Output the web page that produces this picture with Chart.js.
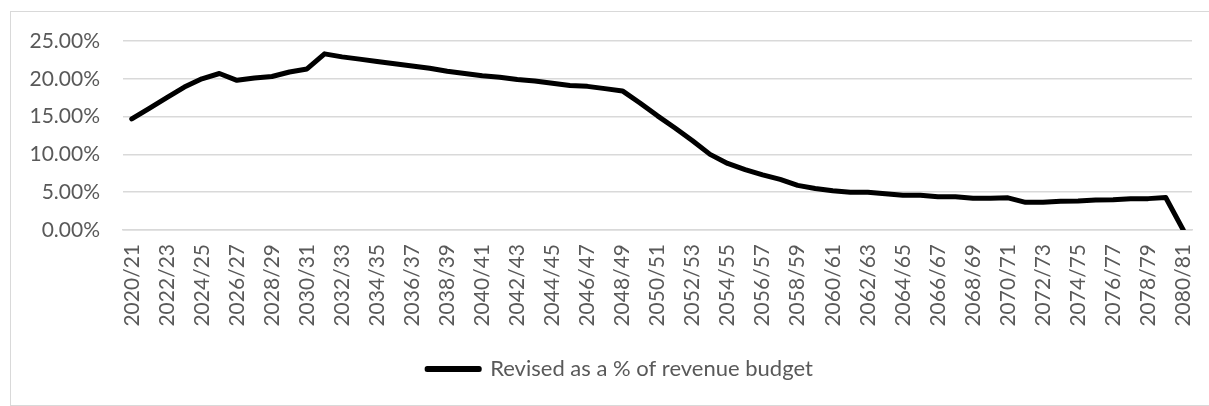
<!DOCTYPE html>
<html>
<head>
<meta charset="utf-8">
<script src="https://cdn.jsdelivr.net/npm/chart.js@4/dist/chart.umd.min.js"></script>
<style>
  html, body { margin: 0; padding: 0; background: #fff; overflow: hidden; }
  #wrap { position: relative; width: 1209px; height: 406px; }
  #frame {
    position: absolute; left: 10px; top: 11px; width: 1210px; height: 393px;
    border: 1.5px solid #d9d9d9; pointer-events: none;
  }
</style>
</head>
<body>
<div id="wrap">
  <canvas id="chart" width="1209" height="406"></canvas>
  <div id="frame"></div>
</div>
<script>
// financial years 2020/21 .. 2080/81
var years = [];
for (var y = 2020; y <= 2080; y++) {
  years.push(y + "/" + String((y + 1) % 100).padStart(2, "0"));
}

var seriesName = "Revised as a % of revenue budget";

// percent of revenue budget
var revisedPct = [
  14.7, 16.1, 17.5, 18.9, 20.0, 20.7, 19.8, 20.1, 20.3, 20.9,
  21.3, 23.3, 22.9, 22.6, 22.3, 22.0, 21.7, 21.4, 21.0, 20.7,
  20.4, 20.2, 19.9, 19.7, 19.4, 19.1, 19.0, 18.7, 18.4, 16.8,
  15.1, 13.5, 11.8, 10.0, 8.8, 8.0, 7.3, 6.7, 5.9, 5.5,
  5.2, 5.0, 5.0, 4.8, 4.6, 4.6, 4.4, 4.4, 4.2, 4.2,
  4.25, 3.66, 3.66, 3.8, 3.85, 3.97, 4.0, 4.14, 4.15, 4.3,
  0.0
];

var yTicks = [0, 5, 10, 15, 20, 25];

var textColor = "#595959";
var fontFamily = "Lato, 'Liberation Sans', sans-serif";

// nudge the legend to the right a little, like the original
var legendShift = {
  id: "legendShift",
  afterLayout: function(chart) {
    if (chart.legend) {
      chart.legend.left += 24;
      chart.legend.right += 24;
    }
  }
};

new Chart(document.getElementById("chart"), {
  type: "line",
  data: {
    labels: years,
    datasets: [
      {
        label: seriesName,
        data: revisedPct,
        borderColor: "#000000",
        backgroundColor: "#000000",
        borderWidth: 5,
        borderJoinStyle: "round",
        borderCapStyle: "round",
        pointRadius: 0,
        tension: 0
      }
    ]
  },
  options: {
    responsive: false,
    animation: false,
    layout: { padding: { left: 0, right: 17, top: 41, bottom: 16 } },
    scales: {
      x: {
        offset: true,
        grid: { display: false, drawTicks: false },
        border: { display: true, color: "#d9d9d9", width: 1.5 },
        ticks: {
          autoSkip: false,
          minRotation: 90,
          maxRotation: 90,
          padding: 14,
          color: textColor,
          font: { family: fontFamily, size: 21 },
          callback: function(val, idx) {
            return idx % 2 === 0 ? years[idx] : "";
          }
        },
        afterFit: function(scale) {
          scale.height = 118;
          scale.paddingLeft = 0;
          scale.paddingRight = 0;
        }
      },
      y: {
        min: 0,
        max: 25,
        afterBuildTicks: function(scale) {
          scale.ticks = yTicks.map(function(v) { return { value: v }; });
        },
        grid: { color: "#d9d9d9", lineWidth: 1.5, drawTicks: false },
        border: { display: false },
        ticks: {
          padding: 23,
          color: textColor,
          font: { family: fontFamily, size: 21 },
          callback: function(v) {
            return v.toFixed(2) + "%";
          }
        },
        afterFit: function(scale) {
          scale.width = 123;
        }
      }
    },
    plugins: {
      legend: {
        position: "bottom",
        labels: {
          boxWidth: 52,
          boxHeight: 1,
          padding: 10,
          color: textColor,
          font: { family: fontFamily, size: 22 }
        }
      },
      tooltip: { enabled: false }
    }
  },
  plugins: [legendShift]
});
</script>
</body>
</html>
